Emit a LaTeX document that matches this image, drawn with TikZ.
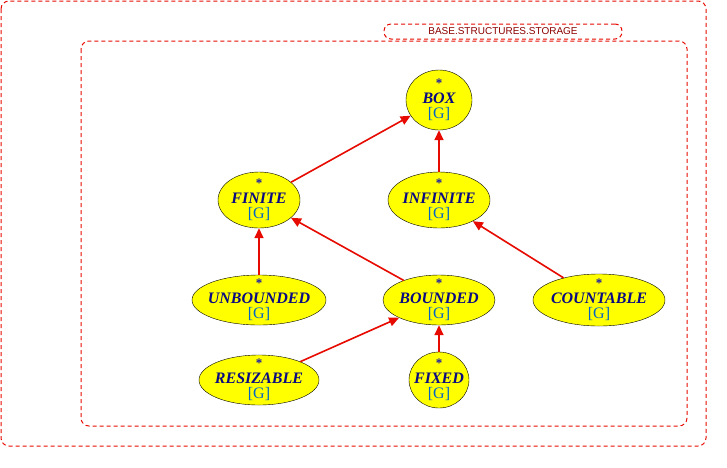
\documentclass[tikz,border=0pt]{standalone}
\usepackage{fontspec}
\setmainfont{Liberation Serif}
\newfontfamily\lsans{Liberation Sans}
\usetikzlibrary{shapes.geometric,arrows.meta}
\definecolor{dred}{RGB}{230,10,0}
\definecolor{lblred}{RGB}{140,0,0}
\definecolor{nmblue}{RGB}{10,10,130}
\definecolor{stblue}{RGB}{20,20,170}
\definecolor{gblue}{RGB}{0,100,200}
\definecolor{fillyel}{RGB}{255,255,0}
\tikzset{
  cls/.style={ellipse, draw=black, fill=fillyel, inner xsep=-8pt, inner ysep=-8pt, align=center,
    font=\fontsize{16}{15}\selectfont},
  edge/.style={draw=dred, line width=1.6pt, -{Triangle[length=10pt,width=9pt]}},
  frame/.style={draw=dred, line width=1pt, dash pattern=on 4pt off 3pt}
}
\newcommand{\clstext}[1]{{\color{stblue}\fontsize{13}{11}\selectfont\bfseries *}\\[1pt]{\color{nmblue}\bfseries\itshape #1}\\[0pt]{\color{gblue}[G]}}
\begin{document}
\begin{tikzpicture}[x=1pt,y=-1pt]
\useasboundingbox (0,0) rectangle (727,467);
\draw[frame, rounded corners=8pt] (1,1) rectangle (706,446);
\draw[frame, rounded corners=8pt] (81,41) rectangle (687,426);
\node[frame, rounded corners=7pt, fill=white, minimum width=238pt, minimum height=15pt, inner sep=0pt] (lbl) at (503,31.5) {\lsans\fontsize{10}{11}\selectfont\color{lblred}BASE.STRUCTURES.STORAGE};
\node[cls, minimum width=66pt, minimum height=60pt] (box) at (439,100) {\clstext{BOX}};
\node[cls, minimum width=82pt, minimum height=56pt] (finite) at (259,200) {\clstext{FINITE}};
\node[cls, minimum width=102pt, minimum height=56pt] (infinite) at (439,200) {\clstext{INFINITE}};
\node[cls, minimum width=134pt, minimum height=50pt] (unbounded) at (259,300) {\clstext{UNBOUNDED}};
\node[cls, minimum width=112pt, minimum height=50pt] (bounded) at (439,300) {\clstext{BOUNDED}};
\node[cls, minimum width=132pt, minimum height=52pt] (countable) at (599,300) {\clstext{COUNTABLE}};
\node[cls, minimum width=120pt, minimum height=50pt] (resizable) at (259,380) {\clstext{RESIZABLE}};
\node[cls, minimum width=60pt, minimum height=56pt] (fixed) at (439,380) {\clstext{FIXED}};
\draw[edge] (finite) -- (box);
\draw[edge] (infinite) -- (box);
\draw[edge] (unbounded) -- (finite);
\draw[edge] (bounded) -- (finite);
\draw[edge] (countable) -- (infinite);
\draw[edge] (resizable) -- (bounded);
\draw[edge] (fixed) -- (bounded);
\end{tikzpicture}
\end{document}
